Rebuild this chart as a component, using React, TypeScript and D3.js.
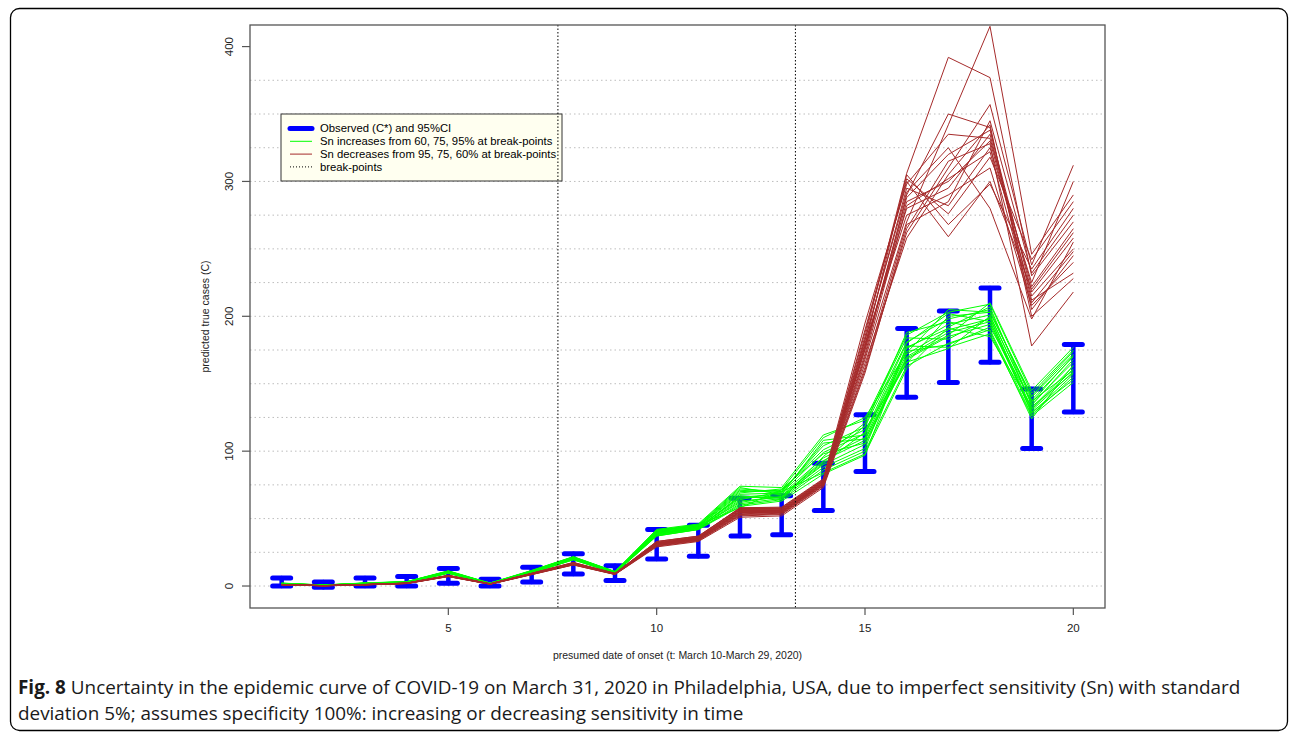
import React from 'react';
import * as d3 from 'd3';

const days = [1, 2, 3, 4, 5, 6, 7, 8, 9, 10, 11, 12, 13, 14, 15, 16, 17, 18, 19, 20];
const obsLo = [0, -1, 0, 0, 2, 0, 3, 9, 4, 20, 22, 37, 38, 56, 85, 140, 151, 166, 102, 129];
const obsHi = [6, 3, 6, 7, 13, 5, 14, 24, 15, 42, 45, 65, 67, 91, 127, 191, 204, 221, 146, 179];
const breakPoints = [7.63, 13.33];
const yTicks = [0, 100, 200, 300, 400];
const xTicks = [5, 10, 15, 20];
const gridValues = [0, 25, 50, 75, 100, 125, 150, 175, 200, 225, 250, 275, 300, 325, 350, 375];

const greenSeries = [
  [1.5, 0.5, 1.8, 2.8, 10.2, 1.6, 10.5, 20.5, 10.1, 39, 43, 66, 68, 95, 110, 172, 190, 198, 132, 163],
  [2.0, 0.7, 2.2, 3.1, 11.0, 2.0, 11.2, 21.5, 10.6, 41, 45, 72, 70, 104, 118, 181, 198, 205, 138, 170],
  [1.2, 0.3, 1.5, 2.4, 9.4, 1.3, 9.6, 19.4, 9.5, 37, 42, 60, 64, 86, 100, 163, 180, 190, 127, 155],
  [1.8, 0.6, 2.0, 3.0, 10.6, 1.9, 10.9, 21.0, 10.3, 40, 44, 68, 69, 99, 113, 176, 194, 201, 135, 166],
  [1.4, 0.4, 1.7, 2.6, 9.8, 1.5, 10.0, 20.0, 9.8, 38, 42.5, 63, 66, 90, 105, 168, 185, 194, 130, 159],
  [2.2, 0.8, 2.3, 3.3, 11.3, 2.2, 11.6, 21.8, 10.8, 42, 46, 74, 73, 112, 123, 186, 203, 209, 143, 175],
  [1.6, 0.5, 1.9, 2.9, 10.4, 1.7, 10.7, 20.8, 10.2, 39.5, 43.5, 65, 67, 93, 108, 170, 188, 196, 131, 161],
  [1.3, 0.4, 1.6, 2.5, 9.6, 1.4, 9.8, 19.7, 9.6, 37.5, 42, 61, 65, 88, 102, 178, 177, 187, 126, 151],
  [1.9, 0.6, 2.1, 3.1, 10.8, 2.0, 11.0, 21.2, 10.5, 40.5, 44.5, 70, 71, 101, 116, 165, 200, 203, 140, 172],
  [1.7, 0.5, 1.9, 2.8, 10.3, 1.7, 10.6, 20.6, 10.2, 39, 43, 67, 64, 96, 121, 184, 183, 199, 128, 157],
  [1.5, 0.4, 1.7, 2.7, 10.0, 1.6, 10.3, 20.2, 9.9, 38.5, 42.8, 64, 70, 84, 98, 161, 192, 207, 134, 168],
  [2.1, 0.7, 2.2, 3.2, 11.1, 2.1, 11.4, 21.6, 10.7, 41.5, 45.5, 73, 68, 108, 112, 174, 179, 192, 137, 160],
  [1.4, 0.5, 1.6, 2.6, 9.9, 1.5, 10.1, 20.1, 9.9, 38, 43.2, 62, 66.5, 92, 119, 188, 196, 189, 124, 164],
  [1.8, 0.6, 2.0, 2.9, 10.5, 1.8, 10.8, 20.9, 10.4, 40, 44.2, 69, 72, 98, 106, 169, 186, 210, 145, 177],
  [1.6, 0.5, 1.8, 2.8, 10.2, 1.7, 10.4, 20.4, 10.0, 39.2, 43.6, 66, 65.5, 91, 114, 180, 202, 196, 129, 153],
  [1.9, 0.7, 2.1, 3.0, 10.7, 1.9, 11.1, 21.3, 10.4, 40.8, 44.8, 71, 69.5, 106, 109, 166, 176, 200, 136, 171],
  [1.3, 0.4, 1.5, 2.5, 9.5, 1.4, 9.7, 19.5, 9.6, 37.2, 41.8, 59, 63, 83, 97, 177, 191, 185, 133, 158],
  [2.0, 0.6, 2.1, 3.1, 10.9, 2.0, 11.3, 21.4, 10.6, 41.2, 45.2, 58, 71.5, 110, 125, 173, 205, 203, 141, 174],
];

const brownSeries = [
  [1.0, 0.2, 1.0, 2.0, 7.5, 1.5, 9.0, 16.6, 9.0, 31, 35, 55, 55, 76, 175, 285, 300, 330, 215, 250],
  [1.1, 0.3, 1.1, 2.1, 7.8, 1.6, 9.3, 17.2, 9.2, 32, 36, 57, 57, 78, 185, 306, 392, 377, 230, 270],
  [0.9, 0.2, 0.9, 1.9, 7.2, 1.4, 8.7, 16.0, 8.8, 30, 34, 53, 54, 75, 168, 270, 342, 415, 246, 290],
  [1.0, 0.3, 1.0, 2.0, 7.4, 1.5, 9.0, 16.4, 9.0, 31, 35, 54, 55, 76, 172, 290, 350, 340, 205, 245],
  [1.2, 0.3, 1.2, 2.2, 8.0, 1.7, 9.5, 17.5, 9.4, 33, 37, 58, 58, 79, 190, 300, 259, 300, 220, 262],
  [0.9, 0.2, 0.9, 1.8, 7.0, 1.3, 8.5, 15.7, 8.6, 29.5, 33.5, 52, 53, 74, 160, 262, 310, 357, 238, 312],
  [1.0, 0.2, 1.0, 2.0, 7.6, 1.5, 9.1, 16.8, 9.0, 31.5, 35.5, 56, 56, 77, 178, 280, 295, 335, 212, 232],
  [1.1, 0.3, 1.1, 2.1, 7.7, 1.6, 9.2, 17.0, 9.2, 32, 36, 56.5, 56.5, 77.5, 182, 295, 282, 325, 225, 300],
  [0.9, 0.2, 0.9, 1.9, 7.3, 1.4, 8.8, 16.2, 8.8, 30.5, 34.5, 53.5, 54.5, 75.5, 165, 258, 305, 342, 200, 228],
  [1.0, 0.3, 1.0, 2.0, 7.5, 1.5, 9.0, 16.5, 9.0, 31, 35, 55, 55.5, 76.5, 176, 288, 320, 338, 218, 258],
  [1.2, 0.3, 1.2, 2.2, 7.9, 1.7, 9.4, 17.4, 9.4, 33, 37, 57.5, 57.5, 78.5, 188, 302, 276, 318, 242, 285],
  [0.8, 0.1, 0.8, 1.8, 7.0, 1.3, 8.4, 15.6, 8.5, 29, 33, 51, 52, 73, 158, 265, 315, 328, 178, 218],
  [1.0, 0.2, 1.0, 2.0, 7.5, 1.5, 9.0, 16.7, 9.1, 31.2, 35.2, 55.5, 56, 77, 180, 275, 290, 310, 208, 240],
  [1.1, 0.3, 1.1, 2.1, 7.8, 1.6, 9.3, 17.1, 9.3, 32.5, 36.5, 58, 58.5, 79.5, 195, 298, 335, 332, 222, 265],
  [0.9, 0.2, 0.9, 1.9, 7.1, 1.4, 8.6, 15.9, 8.7, 30, 34, 52.5, 53.5, 74.5, 162, 268, 285, 345, 232, 275],
  [1.0, 0.2, 1.0, 2.0, 7.4, 1.5, 8.9, 16.3, 8.9, 30.8, 34.8, 54.5, 54.8, 75.8, 170, 282, 302, 322, 210, 248],
  [1.1, 0.3, 1.1, 2.1, 7.7, 1.6, 9.2, 16.9, 9.2, 31.8, 35.8, 56.8, 57, 78, 183, 292, 325, 280, 198, 255],
  [1.0, 0.2, 1.0, 2.0, 7.5, 1.5, 9.0, 16.5, 9.0, 31, 35, 55, 55, 76, 178, 305, 268, 298, 235, 280],
];

const legendItems = [
  'Observed (C*) and 95%CI',
  'Sn increases from 60, 75, 95% at break-points',
  'Sn decreases from 95, 75, 60% at break-points',
  'break-points',
];

const captionBold = 'Fig. 8';
const captionLine1 = ' Uncertainty in the epidemic curve of COVID-19 on March 31, 2020 in Philadelphia, USA, due to imperfect sensitivity (Sn) with standard';
const captionLine2 = 'deviation 5%; assumes specificity 100%: increasing or decreasing sensitivity in time';

const W = 1290;
const H = 732;
const box = { left: 250, top: 25, right: 1105, bottom: 608 };
const GREEN = '#00FF00';
const BROWN = '#A52A2A';
const BLUE = '#0000FF';
const FONT = '"Liberation Sans", Arial, sans-serif';

export default function App() {
  const x = d3.scaleLinear().domain([0.24, 20.76]).range([box.left, box.right]);
  const y = d3.scaleLinear().domain([-16.3, 416]).range([box.bottom, box.top]);
  const line = d3
    .line<number>()
    .x((_, i) => x(days[i]))
    .y((d) => y(d));

  const legendX = 281;
  const legendY = 114;
  const legendW = 281;
  const legendH = 67;
  const rowYs = legendItems.map((_, i) => legendY + 14.5 + i * 12.8);

  return (
    <div style={{ position: 'absolute', left: 0, top: 0 }}>
      <svg width={W} height={H} viewBox={`0 0 ${W} ${H}`} style={{ display: 'block', background: '#fff' }}>
        <rect x={10.5} y={8.5} width={1277} height={722} rx={9} ry={9} fill="#fff" stroke="#000" strokeWidth={1.3} />
        <defs>
          <clipPath id="plotclip">
            <rect x={box.left} y={box.top} width={box.right - box.left} height={box.bottom - box.top} />
          </clipPath>
        </defs>

        {/* grid */}
        {gridValues.map((v) => (
          <line key={'g' + v} x1={box.left} x2={box.right} y1={y(v)} y2={y(v)} stroke="#bdbdbd" strokeWidth={1} strokeDasharray="1.5,3" />
        ))}

        <g clipPath="url(#plotclip)">
          {/* observed CI bars */}
          {days.map((d, i) => (
            <g key={'ci' + d} stroke={BLUE} strokeLinecap="round">
              <line x1={x(d)} x2={x(d)} y1={y(obsLo[i])} y2={y(obsHi[i])} strokeWidth={4.5} />
              <line x1={x(d) - 9} x2={x(d) + 9} y1={y(obsLo[i])} y2={y(obsLo[i])} strokeWidth={5} />
              <line x1={x(d) - 9} x2={x(d) + 9} y1={y(obsHi[i])} y2={y(obsHi[i])} strokeWidth={5} />
            </g>
          ))}
          {greenSeries.map((s, k) => (
            <path key={'gr' + k} d={line(s) || ''} fill="none" stroke={GREEN} strokeWidth={1} />
          ))}
          {brownSeries.map((s, k) => (
            <path key={'br' + k} d={line(s) || ''} fill="none" stroke={BROWN} strokeWidth={1} />
          ))}
        </g>

        {/* legend */}
        <rect x={legendX} y={legendY} width={legendW} height={legendH} fill="#FFFFF0" stroke="#333" strokeWidth={1} />
        <line x1={290} x2={312} y1={rowYs[0]} y2={rowYs[0]} stroke={BLUE} strokeWidth={5} strokeLinecap="round" />
        <line x1={290} x2={312} y1={rowYs[1]} y2={rowYs[1]} stroke={GREEN} strokeWidth={1} />
        <line x1={290} x2={312} y1={rowYs[2]} y2={rowYs[2]} stroke={BROWN} strokeWidth={1} />
        <line x1={290} x2={312} y1={rowYs[3]} y2={rowYs[3]} stroke="#000" strokeWidth={1} strokeDasharray="1,2" />
        {legendItems.map((t, i) => (
          <text key={'lt' + i} x={320} y={rowYs[i]} dy="0.35em" fontFamily={FONT} fontSize={11.3} fill="#000">
            {t}
          </text>
        ))}

        {/* break points */}
        {breakPoints.map((b) => (
          <line key={'bp' + b} x1={x(b)} x2={x(b)} y1={box.top} y2={box.bottom} stroke="#000" strokeWidth={1} strokeDasharray="1.5,2" />
        ))}

        {/* box */}
        <rect x={box.left} y={box.top} width={box.right - box.left} height={box.bottom - box.top} fill="none" stroke="#555" strokeWidth={1.3} />

        {/* y axis */}
        {yTicks.map((v) => (
          <g key={'yt' + v}>
            <line x1={box.left - 8} x2={box.left} y1={y(v)} y2={y(v)} stroke="#555" strokeWidth={1.2} />
            <text transform={`translate(${229},${y(v)}) rotate(-90)`} textAnchor="middle" dy="0.35em" fontFamily={FONT} fontSize={11.5} fill="#222">
              {v}
            </text>
          </g>
        ))}
        {/* x axis */}
        {xTicks.map((v) => (
          <g key={'xt' + v}>
            <line x1={x(v)} x2={x(v)} y1={box.bottom} y2={box.bottom + 7} stroke="#555" strokeWidth={1.2} />
            <text x={x(v)} y={628} textAnchor="middle" dy="0.35em" fontFamily={FONT} fontSize={11.5} fill="#222">
              {v}
            </text>
          </g>
        ))}
        <text transform={`translate(205,${(box.top + box.bottom) / 2}) rotate(-90)`} textAnchor="middle" dy="0.35em" fontFamily={FONT} fontSize={10.5} fill="#222">
          predicted true cases (C)
        </text>
        <text x={(box.left + box.right) / 2} y={655} textAnchor="middle" dy="0.35em" fontFamily={FONT} fontSize={10.5} fill="#222">
          presumed date of onset (t: March 10-March 29, 2020)
        </text>

        {/* caption */}
        <text x={18} y={694} fontFamily='"Open Sans", sans-serif' fontSize={18.9} fill="#1a1a1a">
          <tspan fontWeight="bold">{captionBold}</tspan>
          <tspan>{captionLine1}</tspan>
        </text>
        <text x={18} y={719.5} fontFamily='"Open Sans", sans-serif' fontSize={18.9} fill="#1a1a1a">
          {captionLine2}
        </text>
      </svg>
    </div>
  );
}
